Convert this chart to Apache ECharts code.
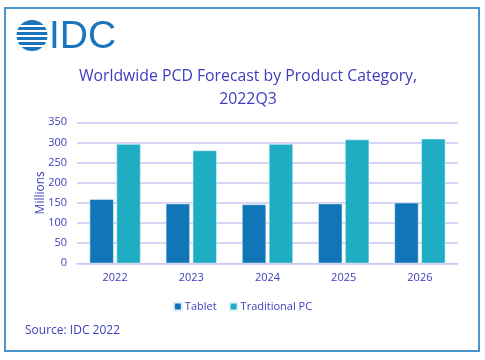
<!DOCTYPE html>
<html><head><meta charset="utf-8">
<script src="https://cdn.jsdelivr.net/npm/echarts@6/dist/echarts.min.js"></script>
<style>html,body{margin:0;padding:0;background:#fff}#c{width:485px;height:360px}</style>
</head><body><div id="c"></div>
<script>
const categories = ['2022','2023','2024','2025','2026'];
const tablet = [159, 148, 146, 148, 150];
const traditionalPC = [296, 280, 296, 307, 309];
const yTicks = [0, 50, 100, 150, 200, 250, 300, 350];

const txt = '#3d3dbd';
const chart = echarts.init(document.getElementById('c'), null, {renderer:'canvas'});
const globeGaps = [25, 30, 35, 40, 45];
const gfx = [
  {type:'rect', shape:{x:5, y:8, width:474, height:343}, style:{fill:'none', stroke:'#4b94cc', lineWidth:2}, z:10},
  {type:'circle', shape:{cx:32, cy:35.5, r:15.5}, style:{fill:'#1a75bc'}},
  {type:'text', left:49, top:18, style:{text:'IDC', font:'39px "Liberation Sans", Arial, sans-serif', fill:'#1a75bc'}},
  {type:'text', left:25, top:325, style:{text:'Source: IDC 2022', font:'12px "Open Sans", sans-serif', fill:txt}}
];
globeGaps.forEach(y => gfx.push({type:'rect', shape:{x:14, y:y, width:36, height:2}, style:{fill:'#fff'}, z:5}));

chart.setOption({
  animation:false,
  title:{
    text:'Worldwide PCD Forecast by Product Category,\n2022Q3',
    left:243, top:60, textAlign:'center',
    textStyle:{fontFamily:'Open Sans', fontSize:15.8, fontWeight:'normal', color:txt, lineHeight:23}
  },
  legend:{
    data:['Tablet','Traditional PC'], top:296, left:'center', itemWidth:8, itemHeight:8, itemGap:12,
    icon:'rect',
    textStyle:{fontFamily:'Open Sans', fontSize:11, color:txt, padding:[0,0,0,-2]}
  },
  grid:{left:77, right:27, top:122.3, bottom:96.7},
  xAxis:{
    type:'category', data:categories,
    axisLine:{lineStyle:{color:'#c8c8f0'}}, axisTick:{show:false},
    axisLabel:{fontFamily:'Open Sans', fontSize:11, color:txt, margin:9}
  },
  yAxis:{
    type:'value', min:yTicks[0], max:yTicks[yTicks.length-1], interval:50,
    name:'Millions', nameLocation:'middle', nameGap:30, nameRotate:90, nameMoveOverlap:false,
    nameTextStyle:{fontFamily:'Open Sans', fontSize:12, color:txt},
    axisLine:{show:false}, axisTick:{show:false},
    axisLabel:{fontFamily:'Open Sans', fontSize:11, color:txt, margin:10},
    splitLine:{lineStyle:{color:'#c8c8f0', width:1.5}}
  },
  series:[
    {name:'Tablet', type:'bar', data:tablet, barWidth:24, barGap:'12%', itemStyle:{color:'#1176b8', borderColor:'#e4f0f8', borderWidth:0.5}},
    {name:'Traditional PC', type:'bar', data:traditionalPC, barWidth:24, itemStyle:{color:'#1fadc3', borderColor:'#e4f6f8', borderWidth:0.5}}
  ],
  graphic:gfx
});
</script></body></html>
